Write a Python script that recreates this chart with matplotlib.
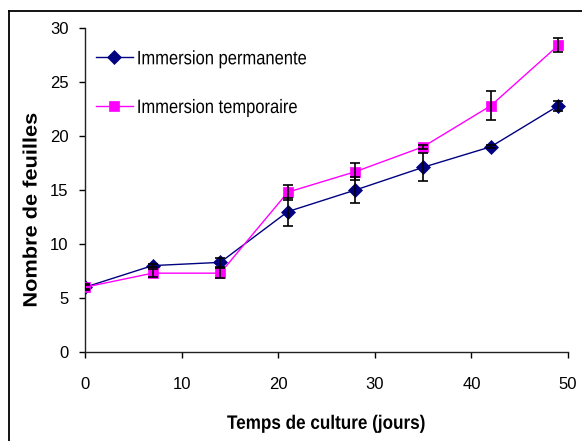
import matplotlib
matplotlib.use('Agg')
import matplotlib.pyplot as plt
from matplotlib.lines import Line2D
from matplotlib.patheffects import AbstractPathEffect
from matplotlib.transforms import Affine2D

plt.rcParams['font.family'] = ['Liberation Sans', 'DejaVu Sans']

# -------------------------------------------------
# Data
# -------------------------------------------------
jours = [0, 7, 14, 21, 28, 35, 42, 49]

perm = [6.0, 8.0, 8.3, 13.0, 15.0, 17.1, 19.0, 22.8]
perm_err = [0.3, 0.15, 0.45, 1.3, 1.2, 1.3, 0.15, 0.45]

temp = [6.0, 7.3, 7.3, 14.8, 16.7, 19.0, 22.8, 28.4]
temp_err = [0.2, 0.35, 0.45, 0.7, 0.8, 0.2, 1.35, 0.65]

labels = ['Immersion permanente', 'Immersion temporaire']


# -------------------------------------------------
# Horizontal squeeze/stretch of text glyphs (the reference uses a narrow font)
# -------------------------------------------------
class Squeeze(AbstractPathEffect):
    def __init__(self, sx=0.82, centre=True):
        super().__init__()
        self.sx = sx
        self.centre = centre

    def draw_path(self, renderer, gc, tpath, affine, rgbFace=None):
        cx = 0
        if self.centre:
            ext = tpath.get_extents()
            cx = (ext.x0 + ext.x1) / 2
        sq = Affine2D().translate(-cx, 0).scale(self.sx, 1).translate(cx, 0)
        renderer.draw_path(gc, tpath, sq + affine, rgbFace)


# -------------------------------------------------
# Figure
# -------------------------------------------------
fig = plt.figure(figsize=(5.82, 4.41), dpi=100)
ax = fig.add_axes([85/582, 1 - 352/441, 483/582, 324/441])

# outer frame (only top and left edges visible)
fig.add_artist(Line2D([9/582, 1.0], [1 - 11/441, 1 - 11/441], color='black', lw=1.3))
fig.add_artist(Line2D([9/582, 9/582], [0, 1 - 11/441], color='black', lw=1.3))

ax.plot(jours, perm, color='#000080', lw=1.0, marker='D', ms=7.5,
        mfc='#000080', mec='#000080', mew=0.5, label=labels[0], zorder=3)
ax.plot(jours, temp, color='#FF00FF', lw=1.0, marker='s', ms=6.5,
        mfc='#FF00FF', mec='#FF00FF', mew=0.5, label=labels[1], zorder=3)

ax.errorbar(jours, perm, yerr=perm_err, fmt='none', ecolor='black',
            elinewidth=1.2, capsize=3.6, capthick=1.2, zorder=4)
ax.errorbar(jours, temp, yerr=temp_err, fmt='none', ecolor='black',
            elinewidth=1.2, capsize=3.6, capthick=1.2, zorder=4)

ax.set_xlim(0, 50)
ax.set_ylim(0, 30)
ax.set_xticks([0, 10, 20, 30, 40, 50])
ax.set_yticks([0, 5, 10, 15, 20, 25, 30])

for s in ['top', 'right']:
    ax.spines[s].set_visible(False)
for s in ['left', 'bottom']:
    ax.spines[s].set_color('#222222')
    ax.spines[s].set_linewidth(1.0)

ax.tick_params(axis='x', direction='out', length=4, width=1, pad=14, labelsize=12)
ax.tick_params(axis='y', direction='out', length=4, width=1, pad=8, labelsize=12)

xl = ax.set_xlabel('Temps de culture (jours)', fontsize=14, fontweight='bold')
yl = ax.set_ylabel('Nombre de feuilles', fontsize=14, fontweight='bold')
xl.set_path_effects([Squeeze(0.88)])
yl.set_path_effects([Squeeze(1.12)])
ax.xaxis.set_label_coords(0.5, -0.197)
ax.yaxis.set_label_coords(-0.092, 0.438)

leg = ax.legend(loc='upper left', bbox_to_anchor=(11/483, 0.93), frameon=False,
                fontsize=14, handlelength=1.9, handletextpad=0.2, labelspacing=1.6,
                borderpad=0, borderaxespad=0)
for t in leg.get_texts():
    t.set_path_effects([Squeeze(0.85, centre=False)])

fig.savefig('out.png', dpi=100)
